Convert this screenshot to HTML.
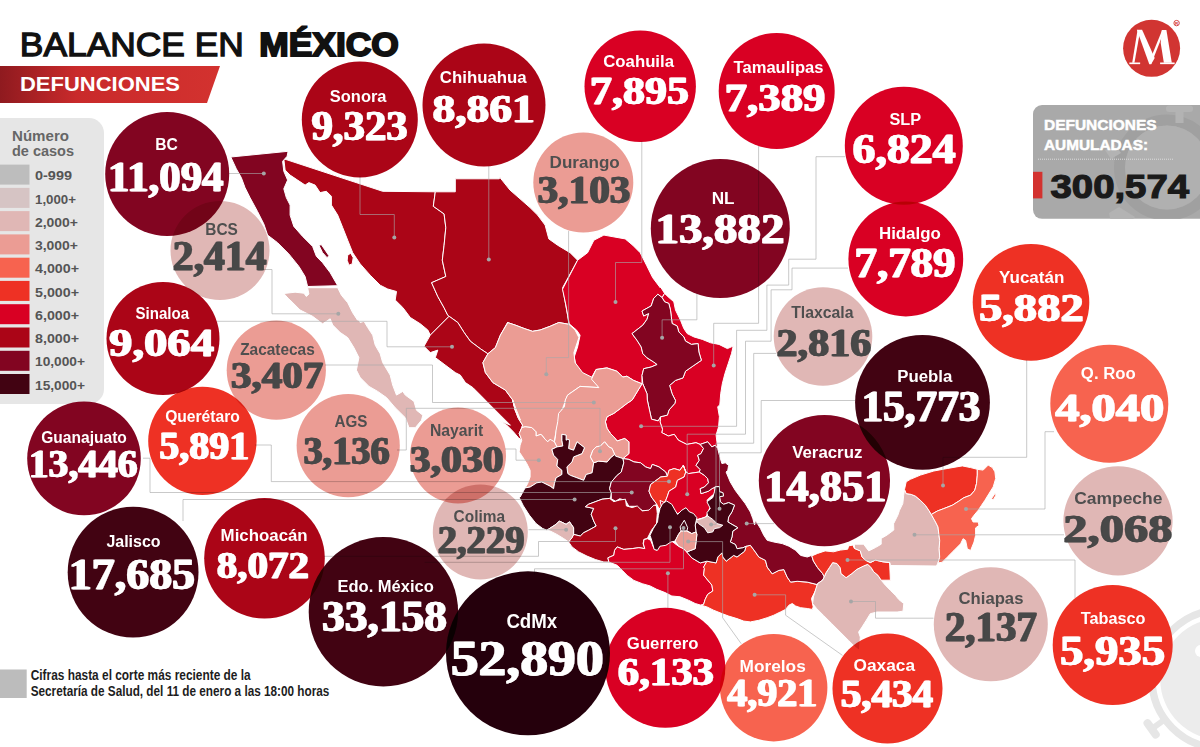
<!DOCTYPE html>
<html lang="es"><head><meta charset="utf-8"><title>Balance en México - Defunciones</title>
<style>
html,body{margin:0;padding:0;background:#fff;}
body{width:1200px;height:747px;overflow:hidden;font-family:"Liberation Sans",sans-serif;}
svg{display:block;position:absolute;left:0;top:0;}
.lab{font-family:"Liberation Sans",sans-serif;font-weight:bold;}
.num{font-family:"Liberation Serif",serif;font-weight:bold;}
.st{stroke:#fff;stroke-width:1;stroke-linejoin:round;}
.ln{fill:none;stroke:#a8a8a8;stroke-width:1;opacity:.62;}
.dot{fill:#a6a6a6;}
.c{mix-blend-mode:multiply;}
</style></head><body>
<svg width="1200" height="747" viewBox="0 0 1200 747">
<defs><linearGradient id="bg" x1="0" y1="0" x2="1" y2="0"><stop offset="0" stop-color="#8f1a1f"/><stop offset="0.35" stop-color="#c92a2b"/><stop offset="1" stop-color="#d3322f"/></linearGradient><clipPath id="boxclip"><rect x="1033" y="105" width="180" height="113.8" rx="9"/></clipPath></defs>
<rect width="1200" height="747" fill="#fff"/>
<g><circle cx="1221" cy="679" r="69" fill="none" stroke="#e6e6e6" stroke-width="7.4"/><circle cx="1221" cy="679" r="60.8" fill="#ececec"/><circle cx="1201" cy="651" r="6" fill="#fff"/><path d="M1164.2 719.9 L1152.8 728.1" stroke="#e6e6e6" stroke-width="6" fill="none"/><path d="M1147.5 723.2 L1155.7 734.6" stroke="#e6e6e6" stroke-width="8" stroke-linecap="round" fill="none"/></g>
<text x="19.8" y="56.4" font-size="34" fill="#111" stroke="#111" stroke-width="1.3" textLength="224" lengthAdjust="spacingAndGlyphs" style="font-family:'Liberation Sans',sans-serif">BALANCE EN</text>
<text x="259.3" y="56.2" font-size="33.5" fill="#111" stroke="#111" stroke-width="1.9" font-weight="bold" textLength="139.5" lengthAdjust="spacingAndGlyphs" style="font-family:'Liberation Sans',sans-serif">MÉXICO</text>
<path d="M0 66 H220 L207 103 H0 Z" fill="url(#bg)"/>
<text x="20" y="91" class="lab" font-size="20" fill="#fff" textLength="160" lengthAdjust="spacingAndGlyphs">DEFUNCIONES</text>
<path d="M0 118 H89 a15 15 0 0 1 15 15 V389 a15 15 0 0 1 -15 15 H0 Z" fill="#e6e6e6"/>
<text x="12" y="141.4" class="lab" font-size="14.5" fill="#666" textLength="57" lengthAdjust="spacingAndGlyphs">Número</text>
<text x="12" y="156" class="lab" font-size="14.5" fill="#666" textLength="62" lengthAdjust="spacingAndGlyphs">de casos</text>
<rect x="0" y="164.6" width="29.5" height="20" fill="#bdbdbd"/>
<text x="35" y="180.2" class="lab" font-size="12.5" fill="#555" textLength="37" lengthAdjust="spacingAndGlyphs">0-999</text>
<rect x="0" y="187.9" width="29.5" height="20" fill="#d6c4c4"/>
<text x="35" y="203.5" class="lab" font-size="12.5" fill="#555" textLength="41" lengthAdjust="spacingAndGlyphs">1,000+</text>
<rect x="0" y="211.1" width="29.5" height="20" fill="#e0b7b5"/>
<text x="35" y="226.7" class="lab" font-size="12.5" fill="#555" textLength="43" lengthAdjust="spacingAndGlyphs">2,000+</text>
<rect x="0" y="234.4" width="29.5" height="20" fill="#eb9c94"/>
<text x="35" y="250" class="lab" font-size="12.5" fill="#555" textLength="43" lengthAdjust="spacingAndGlyphs">3,000+</text>
<rect x="0" y="257.7" width="29.5" height="20" fill="#f7634f"/>
<text x="35" y="273.3" class="lab" font-size="12.5" fill="#555" textLength="44" lengthAdjust="spacingAndGlyphs">4,000+</text>
<rect x="0" y="280.9" width="29.5" height="20" fill="#ee3124"/>
<text x="35" y="296.6" class="lab" font-size="12.5" fill="#555" textLength="44" lengthAdjust="spacingAndGlyphs">5,000+</text>
<rect x="0" y="304.2" width="29.5" height="20" fill="#d90023"/>
<text x="35" y="319.8" class="lab" font-size="12.5" fill="#555" textLength="44" lengthAdjust="spacingAndGlyphs">6,000+</text>
<rect x="0" y="327.5" width="29.5" height="20" fill="#ab0517"/>
<text x="35" y="343.1" class="lab" font-size="12.5" fill="#555" textLength="44" lengthAdjust="spacingAndGlyphs">8,000+</text>
<rect x="0" y="350.8" width="29.5" height="20" fill="#820521"/>
<text x="35" y="366.4" class="lab" font-size="12.5" fill="#555" textLength="50" lengthAdjust="spacingAndGlyphs">10,000+</text>
<rect x="0" y="374" width="29.5" height="20" fill="#420312"/>
<text x="35" y="389.6" class="lab" font-size="12.5" fill="#555" textLength="50" lengthAdjust="spacingAndGlyphs">15,000+</text>
<rect x="0" y="669.5" width="26.7" height="28.5" fill="#bcbcbc"/>
<text x="30.7" y="680.4" font-size="15" fill="#1d1d1d" textLength="220" lengthAdjust="spacingAndGlyphs" style="font-family:'Liberation Sans',sans-serif;font-weight:bold">Cifras hasta el corte más reciente de la</text>
<text x="30.7" y="696" font-size="15" fill="#1d1d1d" textLength="298.7" lengthAdjust="spacingAndGlyphs" style="font-family:'Liberation Sans',sans-serif;font-weight:bold">Secretaría de Salud, del 11 de enero a las 18:00 horas</text>
<g clip-path="url(#boxclip)"><rect x="1033" y="105" width="180" height="114" fill="#a9a9a9"/><circle cx="1167" cy="167.5" r="47.5" fill="none" stroke="#a0a0a0" stroke-width="11"/><circle cx="1167" cy="167.5" r="42" fill="#b0b0b0"/><g fill="#b3b3b3"><rect x="1175.5" y="110" width="8" height="13"/><rect x="1166" y="105.5" width="27" height="6.5" rx="3"/><path d="M1105 150 l10 -5 l6 8 l-10 6 z"/><path d="M1109 213 l10 -6 l16 10 l-6 6 l-18 0 z"/></g></g>
<text x="1044" y="130.2" class="lab" font-size="15.5" fill="#fff" stroke="#fff" stroke-width="0.5" textLength="112.6" lengthAdjust="spacingAndGlyphs">DEFUNCIONES</text>
<text x="1044" y="149.6" class="lab" font-size="15.5" fill="#fff" stroke="#fff" stroke-width="0.5" textLength="104" lengthAdjust="spacingAndGlyphs">AUMULADAS:</text>
<line x1="1038" y1="159.2" x2="1173.6" y2="159.2" stroke="#dcdcdc" stroke-width="1" stroke-dasharray="1 1"/>
<rect x="1033" y="171.8" width="9.4" height="26.6" fill="#d3322f"/>
<text x="1050.5" y="198.2" class="lab" font-size="33.5" fill="#1a1a1a" stroke="#1a1a1a" stroke-width="1.2" textLength="138.6" lengthAdjust="spacingAndGlyphs">300,574</text>
<circle cx="1151.6" cy="48.3" r="28.5" fill="#d13532"/>
<g fill="#fff">
<polygon points="1137.60,29.65 1139.85,32.50 1134.45,62.65 1132.20,62.65"/>
<polygon points="1129.35,62.50 1140.15,62.50 1140.15,64.15 1129.35,64.15"/>
<polygon points="1136.85,29.65 1142.10,29.65 1154.70,58.00 1151.10,64.15 1149.30,64.15"/>
<polygon points="1151.10,64.15 1149.30,61.75 1162.20,30.10 1164.60,30.10"/>
<polygon points="1161.75,30.10 1166.40,30.10 1171.80,62.65 1163.85,62.65 1160.70,43.00"/>
<polygon points="1160.10,62.50 1174.65,62.50 1174.65,64.15 1160.10,64.15"/>
</g>
<circle cx="1176.6" cy="23.1" r="2.7" fill="none" stroke="#d13532" stroke-width="0.9"/>
<text x="1176.6" y="24.7" text-anchor="middle" font-size="4.4" fill="#d13532" class="lab">R</text>
<g style="isolation:isolate">
<g id="map">
<path class="st" fill="#ab0517" d="M283.8 158.8 382.7 191.3 435.3 191.8 433.3 206.3 444.1 213.9 445.8 227.6 444.1 245.2 442.3 260.2 445.8 276.5 431.6 282.7 437.8 296.5 444.1 307.8 447.8 315.3 449.1 316.3 430.3 335.1 427.8 330.0 420.3 323.8 410.3 317.5 402.8 307.5 395.2 300.0 396.5 291.5 387.7 289.0 380.2 285.2 370.2 275.2 360.2 263.9 352.7 252.7 347.7 240.2 342.7 227.6 337.7 215.1 331.4 205.1 331.4 196.3 326.4 191.3 320.1 192.6 315.1 185.1 308.9 182.6 305.1 185.1 297.6 180.1 290.1 175.1 285.1 170.0Z"/>
<path class="st" fill="#ab0517" d="M347.7 255.2 350.7 253.2 353.2 257.7 352.2 263.9 348.9 265.2 347.2 260.2Z"/>
<path class="st" fill="#ab0517" d="M435.3 191.8 455.3 191.8 455.3 178.8 499.2 178.8 500.0 177.6 510.0 190.1 520.0 198.8 530.0 207.6 537.6 215.1 545.1 225.1 548.8 238.9 557.6 245.2 570.1 252.7 577.6 260.2 562.6 287.7 567.6 315.3 568.9 324.3 558.8 322.5 550.1 326.3 540.1 330.0 532.5 331.3 525.0 328.8 515.0 325.0 507.5 322.5 500.4 335.1 495.4 347.6 487.9 353.8 480.4 348.8 470.4 341.3 464.1 332.5 457.8 322.5 449.1 316.3 447.8 315.3 444.1 307.8 437.8 296.5 431.6 282.7 445.8 276.5 442.3 260.2 444.1 245.2 445.8 227.6 444.1 213.9 433.3 206.3Z"/>
<path class="st" fill="#820521" d="M230.8 157.0 288.1 151.3 287.1 156.3 282.6 161.3 283.8 171.3 287.6 180.1 283.8 188.8 286.3 197.6 290.1 205.1 290.1 215.1 293.8 226.4 302.6 236.4 312.6 246.4 316.4 256.4 322.6 262.7 330.2 272.7 337.7 285.7 307.6 286.5 305.1 276.5 298.9 266.4 288.8 253.9 277.6 242.7 267.6 235.1 263.8 223.9 257.5 211.4 250.0 197.6 245.0 187.6 241.3 177.6 236.3 168.8Z"/>
<path class="st" fill="#820521" d="M318.9 245.2 321.4 244.7 328.9 255.7 327.1 257.7 322.6 252.7Z"/>
<path class="st" fill="#e0b7b5" d="M307.6 287.7 337.7 287.7 341.4 295.2 347.7 302.7 352.7 312.8 357.7 320.3 350.2 305.0 355.2 315.0 360.2 322.5 364.0 321.3 367.7 327.5 372.7 335.1 375.2 345.1 380.2 353.8 382.7 362.6 390.2 375.1 392.7 385.1 396.5 395.1 402.8 391.4 405.3 395.1 414.0 401.4 416.5 410.2 422.8 415.2 421.5 420.2 415.3 427.7 409.0 427.7 405.3 417.7 395.2 407.7 386.5 397.6 377.7 391.4 369.0 386.4 360.2 377.6 356.4 370.1 358.9 357.6 353.9 347.6 347.7 337.6 340.2 332.5 332.7 325.0 330.2 318.8 322.6 323.8 312.6 316.3 300.1 310.0 290.1 300.0 288.8 299.0 283.8 293.5 295.1 292.2 303.9 293.2 306.4 296.5 308.9 294.0Z"/>
<path class="st" fill="#ab0517" d="M449.1 316.3 457.8 322.5 464.1 332.5 470.4 341.3 480.4 348.8 487.9 353.8 482.9 362.6 485.4 372.6 492.9 382.6 505.4 390.1 512.9 400.2 515.4 410.2 520.4 420.2 512.6 400.0 515.1 410.0 518.4 418.4 522.6 425.1 521.8 427.6 519.2 433.5 521.8 440.2 518.4 437.7 513.4 431.8 506.7 425.1 500.0 420.9 510.4 425.2 500.4 415.2 490.4 405.2 480.4 395.1 472.9 387.6 465.4 382.6 460.3 375.1 455.3 372.6 445.3 365.1 435.3 357.6 437.8 350.1 430.3 352.6 424.0 346.3 430.3 335.1Z"/>
<path class="st" fill="#d90023" d="M577.6 260.2 587.6 252.7 593.9 240.2 603.9 235.1 625.2 238.9 632.7 245.2 640.2 252.7 646.5 265.2 652.7 277.7 660.2 287.7 660.4 286.7 664.6 293.4 662.1 297.6 657.9 294.2 653.7 298.4 651.2 305.9 642.0 311.0 643.7 316.0 648.7 313.5 647.0 319.3 642.8 325.2 632.0 333.6 637.0 340.3 641.2 346.9 642.8 353.6 647.0 357.8 653.7 362.0 657.1 364.5 651.2 367.0 643.7 368.7 642.0 375.4 642.0 383.8 633.6 380.4 626.9 376.2 622.8 377.1 616.9 371.2 606.9 367.9 596.0 369.5 591.0 378.7 581.8 373.7 575.9 365.4 574.2 357.0 577.6 346.9 580.1 335.2 576.7 330.2 569.2 323.8 565.9 305.1 562.5 289.2Z"/>
<path class="st" fill="#d90023" d="M664.6 293.4 667.1 295.9 673.8 301.8 675.5 310.1 680.5 320.2 683.8 328.5 687.2 333.6 693.9 336.9 702.3 339.4 710.6 342.8 719.0 344.4 727.4 348.6 733.2 346.1 731.5 353.6 728.2 363.7 724.9 373.7 722.3 383.8 720.7 393.8 719.8 405.0 717.7 406.7 719.4 416.7 718.6 426.8 716.1 435.1 716.9 441.8 717.7 448.5 715.2 445.2 711.9 446.9 707.7 441.8 700.2 444.4 696.0 442.7 686.8 444.4 678.4 440.2 674.2 434.3 668.4 436.0 661.7 432.6 662.5 429.3 660.0 421.8 660.7 416.7 667.4 415.1 669.0 410.0 674.9 403.3 675.7 400.0 675.5 400.5 672.1 393.8 669.6 385.4 675.5 380.4 683.0 377.9 685.5 371.2 693.9 365.4 701.4 360.3 698.9 352.0 698.1 343.6 691.4 344.4 685.5 341.1 683.8 336.9 678.8 331.9 677.2 326.0 672.1 323.5 671.3 316.8 670.5 310.1 668.8 303.4 664.6 301.8 662.1 297.6Z"/>
<path class="st" fill="#820521" d="M657.9 294.2 662.1 297.6 664.6 301.8 668.8 303.4 670.5 310.1 671.3 316.8 672.1 323.5 677.2 326.0 678.8 331.9 683.8 336.9 685.5 341.1 691.4 344.4 698.1 343.6 698.9 352.0 701.4 360.3 693.9 365.4 685.5 371.2 683.0 377.9 675.5 380.4 669.6 385.4 672.1 393.8 675.5 400.5 674.9 403.3 669.0 410.0 667.4 415.1 660.7 416.7 658.2 420.9 651.5 419.2 647.3 400.0 647.0 393.8 642.8 383.8 642.0 375.4 643.7 368.7 651.2 367.0 657.1 364.5 653.7 362.0 647.0 357.8 642.8 353.6 641.2 346.9 637.0 340.3 632.0 333.6 642.8 325.2 647.0 319.3 648.7 313.5 643.7 316.0 642.0 311.0 651.2 305.9 653.7 298.4Z"/>
<path class="st" fill="#eb9c94" d="M507.5 322.5 515.0 325.0 525.0 328.8 532.5 331.3 540.1 330.0 550.1 326.3 558.8 322.5 568.9 324.3 575.1 330.0 578.9 337.6 573.9 352.6 575.1 362.6 582.6 372.6 592.6 377.6 598.9 387.6 580.1 386.4 567.6 395.1 563.8 405.2 560.1 415.2 556.3 430.2 553.8 444.0 550.2 439.3 547.7 441.8 545.2 439.3 541.0 434.3 536.0 436.0 536.0 431.8 531.8 427.6 525.1 426.8 521.8 427.6 522.6 425.1 518.4 418.4 515.1 410.0 512.6 400.0 520.4 420.2 515.4 410.2 512.9 400.2 505.4 390.1 492.9 382.6 485.4 372.6 482.9 362.6 487.9 353.8 495.4 347.6 500.4 335.1 507.9 322.5Z"/>
<path class="st" fill="#d90023" d="M632.2 400.0 627.2 403.3 620.5 408.4 613.8 413.4 607.1 416.7 605.4 421.8 607.1 428.5 610.5 433.5 613.8 436.8 617.2 441.0 624.7 438.5 628.9 441.8 628.9 453.6 623.0 458.6 628.9 459.4 633.9 461.9 640.6 462.8 645.6 466.9 650.6 468.6 652.3 464.4 659.0 466.9 665.7 472.0 667.4 476.2 669.0 470.3 674.1 468.6 679.9 470.3 683.3 465.3 685.9 472.0 688.5 473.6 699.3 472.0 700.2 469.5 696.0 465.3 699.3 460.3 697.7 455.2 701.0 453.6 703.5 448.5 700.2 444.4 696.0 442.7 686.8 444.4 678.4 440.2 674.2 434.3 668.4 436.0 661.7 432.6 662.5 429.3 660.0 421.8 660.7 416.7 658.2 420.9 651.5 419.2 647.3 400.0 647.0 393.8 642.8 383.8 642.0 383.8Z"/>
<path class="st" fill="#eb9c94" d="M596.0 369.5 606.9 367.9 616.9 371.2 622.8 377.1 626.9 376.2 633.6 380.4 642.0 383.8 632.2 400.0 627.2 403.3 620.5 408.4 613.8 413.4 607.1 416.7 605.4 421.8 607.1 428.5 610.5 433.5 613.8 436.8 617.2 441.0 624.7 438.5 628.9 441.8 628.9 453.6 623.0 458.6 615.5 456.1 614.6 454.4 612.1 448.5 608.8 446.9 604.6 441.8 600.4 446.0 596.2 446.9 592.9 450.2 590.4 456.9 593.7 462.8 592.1 472.8 586.2 474.5 583.7 480.3 570.3 475.3 567.8 473.6 566.9 466.9 572.0 461.9 573.6 456.9 582.0 453.6 584.5 447.7 577.0 441.8 573.6 450.2 568.6 448.5 569.5 440.2 567.8 439.3 566.1 440.2 566.1 435.1 561.9 434.3 561.9 440.2 562.8 446.0 556.9 446.9 554.4 441.8 555.2 438.5 556.1 430.1 557.7 421.8 558.6 413.4 564.4 406.7 565.3 400.0 567.6 395.1 580.1 386.4 598.9 387.6 591.5 379.2Z"/>
<path class="st" fill="#eb9c94" d="M521.8 427.6 525.1 426.8 531.8 427.6 536.0 431.8 536.0 436.0 541.0 434.3 545.2 439.3 547.7 441.8 550.2 439.3 554.4 441.8 556.9 446.9 551.9 449.4 553.6 455.2 557.7 459.4 556.9 466.1 561.9 470.3 561.9 474.5 556.1 477.8 554.4 483.7 553.6 488.7 550.2 486.2 541.8 482.0 536.8 482.8 530.1 487.0 525.1 487.9 527.6 483.7 530.1 477.0 530.1 470.3 526.8 463.6 522.6 456.9 519.2 451.9 520.1 445.2 521.8 440.2 519.2 433.5Z"/>
<path class="st" fill="#420312" d="M525.1 487.9 530.1 487.0 536.8 482.8 541.8 482.0 550.2 486.2 553.6 488.7 554.4 483.7 556.1 477.8 561.9 474.5 561.9 470.3 556.9 466.1 557.7 459.4 553.6 455.2 551.9 449.4 556.9 446.9 562.8 446.0 561.9 440.2 561.9 434.3 566.1 435.1 566.1 440.2 567.8 439.3 569.5 440.2 568.6 448.5 573.6 450.2 577.0 441.8 584.5 447.7 582.0 453.6 573.6 456.9 572.0 461.9 566.9 466.9 567.8 473.6 570.3 475.3 583.7 480.3 586.2 474.5 592.1 472.8 593.7 462.8 598.7 461.1 607.1 461.9 610.5 457.7 614.6 454.4 615.5 456.1 623.0 458.6 623.8 462.8 621.3 472.0 617.2 475.3 611.3 482.0 609.6 488.7 611.3 492.9 610.5 498.7 609.6 498.4 602.1 499.2 588.7 504.2 585.4 506.7 593.7 508.4 591.2 514.3 593.7 521.0 596.2 526.0 588.7 530.2 583.7 532.7 580.3 536.0 573.6 534.4 573.6 527.7 569.5 521.8 566.1 524.3 559.4 521.0 556.1 524.3 546.9 530.2 542.7 528.5 536.0 523.5 529.3 515.1 523.4 505.9 519.2 497.5 520.1 497.1Z"/>
<path class="st" fill="#eb9c94" d="M590.4 456.9 592.9 450.2 596.2 446.9 600.4 446.0 604.6 441.8 608.8 446.9 612.1 448.5 614.6 454.4 610.5 457.7 607.1 461.9 598.7 461.1 593.7 462.8Z"/>
<path class="st" fill="#820521" d="M623.0 458.6 628.9 459.4 633.9 461.9 640.6 462.8 645.6 466.9 650.6 468.6 652.3 464.4 659.0 466.9 665.7 472.0 667.4 476.2 660.7 477.0 650.6 484.5 649.0 491.2 651.5 497.1 656.5 503.8 654.0 507.1 651.5 510.5 642.3 510.5 635.6 506.3 628.9 506.3 625.5 500.4 619.7 498.7 615.5 501.3 611.3 498.7 611.3 492.9 609.6 488.7 611.3 482.0 617.2 475.3 621.3 472.0 623.8 462.8Z"/>
<path class="st" fill="#ee3124" d="M667.4 476.2 669.0 470.3 674.1 468.6 679.9 470.3 683.3 465.3 685.8 472.0 684.1 477.0 677.4 480.3 675.7 487.0 669.0 491.2 667.4 496.2 665.7 500.4 661.5 507.1 659.0 508.8 656.5 503.8 651.5 497.1 649.0 491.2 650.6 484.5 660.7 477.0Z"/>
<path class="st" fill="#d90023" d="M685.9 472.0 688.5 473.6 699.3 472.0 704.4 475.3 707.7 478.7 708.5 482.8 704.4 487.0 700.2 488.7 701.0 493.7 708.5 491.2 711.9 488.7 715.2 487.0 714.4 493.7 710.2 497.1 706.9 500.4 711.9 504.6 708.5 510.5 706.0 517.2 696.0 519.7 693.5 515.5 689.3 512.1 685.9 508.8 681.8 512.1 676.7 513.8 672.6 507.1 666.7 503.8 660.0 500.4 661.5 507.1 665.7 500.4 667.4 496.2 669.0 491.2 675.7 487.0 677.4 480.3 684.1 477.0 685.8 472.0 683.3 465.3Z"/>
<path class="st" fill="#ab0517" d="M585.4 506.7 588.7 504.2 602.1 499.2 609.6 498.4 613.8 501.7 619.7 500.0 625.5 499.2 626.4 505.9 632.2 507.6 637.2 505.9 642.3 510.9 649.0 510.1 654.0 505.1 656.5 505.9 657.3 513.4 656.5 523.5 651.5 530.2 647.3 538.5 643.9 539.4 643.1 543.6 644.8 548.6 638.9 547.7 632.2 548.6 623.8 549.4 617.2 546.9 614.6 550.3 613.8 555.3 607.9 557.8 608.8 562.0 603.8 562.0 595.4 559.5 587.0 556.1 578.7 551.9 572.0 546.9 568.6 541.9 572.0 537.7 573.6 534.4 580.3 536.0 583.7 532.7 588.7 530.2 596.2 526.0 593.7 521.0 591.2 514.3 593.7 508.4Z"/>
<path class="st" fill="#e0b7b5" d="M546.9 530.2 556.1 524.3 559.4 521.0 566.1 524.3 569.5 521.8 573.6 527.7 573.6 534.4 572.0 537.7 568.6 541.9 563.6 538.5 556.9 534.4 550.2 531.0Z"/>
<path class="st" fill="#d90023" d="M608.8 562.0 607.9 557.8 613.8 555.3 614.6 550.3 617.2 546.9 623.8 549.4 632.2 548.6 638.9 547.7 644.8 548.6 643.4 543.9 644.1 539.5 647.6 538.7 650.6 540.2 654.0 548.6 656.5 550.3 660.7 545.2 664.9 541.9 670.7 540.2 674.9 543.6 678.5 546.2 683.5 548.7 686.8 552.0 691.8 557.9 700.2 562.9 706.9 561.2 703.6 567.1 704.4 568.4 703.6 575.1 707.7 580.1 711.9 585.1 712.8 591.0 707.7 594.3 705.2 599.3 703.6 604.4 701.0 605.2 695.2 603.5 688.5 600.2 680.1 596.8 671.8 596.0 665.1 592.6 656.7 589.3 650.0 585.9 642.3 583.7 633.9 580.4 627.2 575.4 622.2 570.3 617.2 565.3Z"/>
<path class="st" fill="#ee3124" d="M706.9 561.2 716.1 562.9 717.8 557.0 722.0 552.8 722.8 557.0 726.2 561.2 733.7 555.4 737.0 557.0 744.6 551.2 746.2 546.2 750.4 545.3 755.4 552.0 758.8 557.0 765.5 560.4 767.2 567.1 772.2 573.8 778.9 570.4 783.9 569.6 787.2 577.1 790.6 582.1 797.3 581.3 807.3 582.1 817.4 584.6 815.7 590.1 811.5 598.5 813.2 606.9 812.3 609.4 807.3 608.5 800.6 607.7 795.6 606.0 792.3 603.5 788.9 605.2 785.6 609.4 780.5 611.9 773.8 615.2 767.2 617.7 758.8 620.3 750.4 621.9 743.7 621.1 737.0 618.6 728.7 616.1 722.0 613.6 713.6 610.2 706.9 606.9 701.0 605.2 703.6 604.4 705.2 599.3 707.7 594.3 712.8 591.0 711.9 585.1 707.7 580.1 703.6 575.1 704.4 568.4 703.6 567.1Z"/>
<path class="st" fill="#820521" d="M700.2 444.4 707.7 441.8 711.9 446.9 715.2 445.2 717.7 448.5 719.4 455.2 721.9 463.6 725.3 462.8 728.6 465.3 727.8 470.3 726.1 472.0 730.3 482.0 735.3 490.4 740.3 497.1 745.4 503.8 750.4 512.1 752.9 518.8 754.6 525.0 755.4 520.2 760.5 528.6 763.8 535.3 767.2 540.3 773.8 542.0 782.2 543.6 788.9 546.2 795.6 550.3 800.6 555.4 807.3 557.0 811.5 555.4 811.8 555.9 813.4 561.0 817.6 567.7 822.6 573.5 824.3 576.9 822.6 580.2 817.6 583.6 817.4 584.6 807.3 582.1 797.3 581.3 790.6 582.1 787.2 577.1 783.9 569.6 778.9 570.4 772.2 573.8 767.2 567.1 765.5 560.4 758.8 557.0 755.4 552.0 750.4 545.3 746.2 546.2 742.9 547.8 737.0 548.7 735.4 544.5 730.3 542.0 732.0 536.9 732.8 531.1 737.9 527.7 732.0 524.4 727.8 521.9 728.7 516.9 732.0 511.8 734.5 505.1 728.7 502.6 723.6 504.3 720.3 501.8 719.5 496.8 723.6 495.9 722.8 492.6 719.5 491.8 719.5 486.7 715.3 486.7 715.2 487.0 711.9 488.7 708.5 491.2 701.0 493.7 700.2 488.7 704.4 487.0 708.5 482.8 707.7 478.7 704.4 475.3 699.3 472.0 700.2 469.5 696.0 465.3 699.3 460.3 697.7 455.2 701.0 453.6 703.5 448.5Z"/>
<path class="st" fill="#420312" d="M715.3 486.7 719.5 486.7 719.5 491.8 722.8 492.6 723.6 495.9 719.5 496.8 720.3 501.8 723.6 504.3 728.7 502.6 734.5 505.1 732.0 511.8 728.7 516.9 727.8 521.9 732.0 524.4 737.9 527.7 732.8 531.1 732.0 536.9 730.3 542.0 735.4 544.5 737.0 548.7 742.9 547.8 746.2 546.2 744.6 551.2 737.0 557.0 733.7 555.4 726.2 561.2 722.8 557.0 722.0 552.8 717.8 557.0 716.1 562.9 706.9 561.2 700.2 562.9 691.8 557.9 686.8 552.0 691.0 550.3 695.2 548.7 696.0 542.0 696.9 534.4 696.0 531.9 695.2 525.2 696.9 520.2 701.9 518.5 707.7 516.0 706.9 512.7 710.3 508.5 706.9 501.8 712.8 497.6 714.4 491.8Z"/>
<path class="st" fill="#e0b7b5" d="M696.0 520.2 701.9 518.5 707.7 516.0 712.8 519.4 716.9 523.6 722.8 525.2 719.5 527.7 714.4 528.6 712.8 531.9 707.7 532.8 704.4 527.7 698.5 523.6Z"/>
<path class="st" fill="#420312" d="M666.7 501.0 671.8 504.3 675.1 510.2 677.6 514.4 681.8 510.2 686.0 507.7 689.3 511.8 693.5 513.5 696.9 517.7 695.2 525.2 696.0 531.9 691.8 533.6 687.7 531.1 681.0 531.1 678.5 534.4 675.1 541.1 670.9 542.0 665.9 545.3 660.0 546.2 657.5 550.3 654.2 549.5 651.7 540.3 650.0 535.3 653.3 528.6 657.5 521.9 658.4 515.2 660.0 508.5 662.6 503.5Z"/>
<path class="st" fill="#420312" d="M684.3 520.2 687.7 527.7 686.8 531.1 681.0 531.1 680.1 526.9Z"/>
<path class="st" fill="#eb9c94" d="M681.0 531.1 686.8 531.1 691.8 533.6 696.0 531.9 696.9 534.4 696.0 542.0 695.2 548.7 691.0 550.3 686.8 552.0 683.5 548.7 678.5 546.2 675.1 541.1 678.5 534.4Z"/>
<path class="st" fill="#e0b7b5" d="M824.3 576.9 826.0 572.7 829.3 567.7 832.7 562.6 836.9 563.5 840.2 567.7 841.0 573.5 846.1 577.7 851.9 573.5 856.9 569.3 863.6 566.0 867.8 564.3 871.2 567.7 873.7 571.8 877.9 575.2 881.2 580.2 885.4 585.2 890.4 590.3 895.4 595.3 898.8 599.5 903.8 603.6 903.0 611.2 897.1 612.0 877.0 612.0 870.3 613.7 866.2 620.4 862.0 627.1 858.6 632.1 860.3 637.1 859.5 650.5 855.3 647.2 848.6 640.5 840.2 632.1 831.8 623.7 823.5 615.4 816.8 608.7 812.6 603.6 813.4 596.9 815.9 588.6 817.6 583.6 822.6 580.2Z"/>
<path class="st" fill="#ee3124" d="M811.8 555.9 817.6 553.4 825.1 550.9 833.5 551.8 840.2 550.1 847.7 549.2 848.6 545.9 852.8 545.1 854.4 548.4 860.3 550.9 862.0 556.8 865.3 560.1 870.3 562.6 875.4 560.1 882.9 561.8 889.6 562.6 890.4 580.2 881.2 580.2 877.9 575.2 873.7 571.8 871.2 567.7 867.8 564.3 863.6 566.0 856.9 569.3 851.9 573.5 846.1 577.7 841.0 573.5 840.2 567.7 836.9 563.5 832.7 562.6 829.3 567.7 826.0 572.7 824.3 576.9 822.6 573.5 817.6 567.7 813.4 561.0Z"/>
<path class="st" fill="#e0b7b5" d="M904.5 489.4 906.2 493.6 911.2 494.4 915.4 496.1 920.4 500.3 925.4 505.3 928.8 510.3 931.3 514.5 935.5 522.0 938.0 527.0 938.8 533.7 939.7 540.4 939.2 548.8 939.7 557.2 938.0 563.0 936.4 566.0 890.4 565.5 889.9 562.6 882.9 561.8 875.4 560.1 870.3 562.6 865.3 560.1 862.0 556.8 860.3 550.9 854.4 548.4 854.4 544.2 863.6 544.2 868.7 550.9 875.4 547.6 881.2 544.2 881.2 538.4 887.1 535.0 893.8 530.0 893.6 523.7 897.8 515.3 899.5 510.3 902.8 503.6 903.7 495.2Z"/>
<path class="st" fill="#ee3124" d="M906.2 481.8 910.4 479.3 920.4 475.1 933.8 471.0 947.2 468.5 962.3 465.9 970.6 467.6 977.3 469.3 977.3 475.1 976.5 483.5 974.8 490.2 970.6 495.2 963.9 497.7 958.9 501.1 952.2 505.3 943.8 508.6 937.2 511.1 931.3 514.5 928.8 510.3 925.4 505.3 920.4 500.3 915.4 496.1 911.2 494.4 906.2 493.6 904.5 489.4Z"/>
<path class="st" fill="#f7634f" d="M977.3 469.3 983.2 470.1 988.2 465.1 992.4 467.6 994.9 471.8 995.7 478.5 993.2 486.9 989.0 493.6 984.9 500.3 981.5 505.3 978.2 510.3 974.0 515.3 971.5 518.7 973.1 522.0 978.2 522.0 979.0 525.4 975.6 527.9 975.6 535.4 974.0 542.1 970.6 550.5 967.3 548.8 965.6 540.4 963.1 538.7 960.6 543.8 953.9 550.5 947.2 557.2 942.2 562.2 938.0 563.0 939.7 557.2 939.2 548.8 939.7 540.4 938.8 533.7 938.0 527.0 935.5 522.0 931.3 514.5 937.2 511.1 943.8 508.6 952.2 505.3 958.9 501.1 963.9 497.7 970.6 495.2 974.8 490.2 976.5 483.5 977.3 475.1Z"/>
<path class="st" fill="#f7634f" d="M991.5 498.6 994.9 493.6 996.1 494.9 993.2 499.9Z"/>
</g>
<g id="lines">
<polyline class="ln" points="229,173.5 263.8,173.5"/>
<circle class="dot" cx="263.8" cy="173.5" r="2"/>
<polyline class="ln" points="262,269.5 272,269.5 272,313.8 338.3,313.8"/>
<circle class="dot" cx="338.3" cy="313.8" r="2"/>
<polyline class="ln" points="360,176 360,214.5 394.3,214.5 394.3,237.5"/>
<circle class="dot" cx="394.3" cy="237.5" r="2"/>
<polyline class="ln" points="488.8,166 488.8,259.5"/>
<circle class="dot" cx="488.8" cy="259.5" r="2"/>
<polyline class="ln" points="217,321.3 387,321.3 387,346.8 452,346.8"/>
<circle class="dot" cx="452" cy="346.8" r="2"/>
<polyline class="ln" points="325,365 432.5,365 432.5,402.5 593.8,402.5"/>
<circle class="dot" cx="593.8" cy="402.5" r="2"/>
<polyline class="ln" points="397,450 406.3,450 406.3,408.3 600,408.3 600,451.3"/>
<circle class="dot" cx="600" cy="451.3" r="2"/>
<polyline class="ln" points="505,449 516,449 516,460.2 538.8,460.2"/>
<circle class="dot" cx="538.8" cy="460.2" r="2"/>
<polyline class="ln" points="143,458.2 150,458.2 150,492.5 631.7,492.5"/>
<circle class="dot" cx="631.7" cy="492.5" r="2"/>
<polyline class="ln" points="255,445 271.3,445 271.3,481.6 669,481.6"/>
<circle class="dot" cx="669" cy="481.6" r="2"/>
<polyline class="ln" points="183,521 183,499.5 574.6,499.5"/>
<circle class="dot" cx="574.6" cy="499.5" r="2"/>
<polyline class="ln" points="324,556.3 538.5,556.3 538.5,541.5 615.5,541.5 615.5,528.2"/>
<circle class="dot" cx="615.5" cy="528.2" r="2"/>
<polyline class="ln" points="528.5,529.7 566.1,529.7"/>
<circle class="dot" cx="566.1" cy="529.7" r="2"/>
<polyline class="ln" points="424.5,562.3 670,562.3 670,527.3"/>
<circle class="dot" cx="670" cy="527.3" r="2"/>
<polyline class="ln" points="534.5,575 534.5,568.8 683.5,568.8 683.5,528"/>
<circle class="dot" cx="683.5" cy="528" r="2"/>
<polyline class="ln" points="667.9,608 667.9,573.3"/>
<circle class="dot" cx="667.9" cy="573.3" r="2"/>
<polyline class="ln" points="741.2,643.7 722.6,617.7 722.6,541.6 688.2,541.6"/>
<circle class="dot" cx="688.2" cy="541.6" r="2"/>
<polyline class="ln" points="842.5,655.4 785.6,615.2 785.6,594.8 754.6,594.8"/>
<circle class="dot" cx="754.6" cy="594.8" r="2"/>
<polyline class="ln" points="933.5,618.2 875.5,618.2 875.5,601.5 851,601.5"/>
<circle class="dot" cx="851" cy="601.5" r="2"/>
<polyline class="ln" points="1075,598 1075,560 847.5,560"/>
<circle class="dot" cx="847.5" cy="560" r="2"/>
<polyline class="ln" points="1064,534.8 914.5,534.8"/>
<circle class="dot" cx="914.5" cy="534.8" r="2"/>
<polyline class="ln" points="1054,431.7 1045,431.7 1045,509 966,509"/>
<circle class="dot" cx="966" cy="509" r="2"/>
<polyline class="ln" points="1026.7,360 1026.7,457.3 943,457.3 943,485.5"/>
<circle class="dot" cx="943" cy="485.5" r="2"/>
<polyline class="ln" points="774,523.6 746.7,523.6"/>
<circle class="dot" cx="746.7" cy="523.6" r="2"/>
<polyline class="ln" points="855,400.5 761.2,400.5 761.2,452.8 719.5,452.8 719.5,508.8"/>
<circle class="dot" cx="719.5" cy="508.8" r="2"/>
<polyline class="ln" points="776.2,353.4 753.7,353.4 753.7,443.2 716,443.2 716,524.4 711.1,524.4"/>
<circle class="dot" cx="711.1" cy="524.4" r="2"/>
<polyline class="ln" points="848,268.1 792,268.1 792,289.8 771.1,289.8 771.1,341.2 745.5,341.2 745.5,434.2 687.2,434.2 687.2,494.2"/>
<circle class="dot" cx="687.2" cy="494.2" r="2"/>
<polyline class="ln" points="845,156.7 816,156.7 816,259.2 788.7,259.2 788.7,285.1 766.9,285.1 766.9,330.3 736.6,330.3 736.6,426.3 641.1,426.3"/>
<circle class="dot" cx="641.1" cy="426.3" r="2"/>
<polyline class="ln" points="758.6,146 758.6,323.3 713.7,323.3 713.7,365.6"/>
<circle class="dot" cx="713.7" cy="365.6" r="2"/>
<polyline class="ln" points="641.8,141 641.8,262.5 615.5,262.5 615.5,302"/>
<circle class="dot" cx="615.5" cy="302" r="2"/>
<polyline class="ln" points="696.9,293 696.9,319.8 662.1,319.8 662.1,337.7"/>
<circle class="dot" cx="662.1" cy="337.7" r="2"/>
<polyline class="ln" points="568.6,231 568.6,357.6 546.3,357.6 546.3,374.3"/>
<circle class="dot" cx="546.3" cy="374.3" r="2"/>
</g>
<g id="circles">
<circle class="c" cx="167.2" cy="174" r="62" fill="#820521"/>
<circle class="c" cx="220" cy="250.4" r="49.5" fill="#e0b7b5"/>
<circle class="c" cx="163" cy="338.5" r="56.5" fill="#ab0517"/>
<circle class="c" cx="276.3" cy="370.2" r="49.6" fill="#eb9c94"/>
<circle class="c" cx="84" cy="458.4" r="56.8" fill="#820521"/>
<circle class="c" cx="202.4" cy="440.9" r="54.2" fill="#ee3124"/>
<circle class="c" cx="348.2" cy="445.6" r="51.6" fill="#eb9c94"/>
<circle class="c" cx="458" cy="455.5" r="48" fill="#eb9c94"/>
<circle class="c" cx="133.1" cy="572.2" r="65.4" fill="#420312"/>
<circle class="c" cx="264.5" cy="558.3" r="60.3" fill="#ab0517"/>
<circle class="c" cx="480.3" cy="531.9" r="47.5" fill="#e0b7b5"/>
<circle class="c" cx="383.4" cy="611.7" r="74.7" fill="#420312"/>
<circle class="c" cx="528" cy="653.3" r="82" fill="#25000c"/>
<circle class="c" cx="665.3" cy="667.7" r="60" fill="#d90023"/>
<circle class="c" cx="773.7" cy="687.7" r="53.7" fill="#f7634f"/>
<circle class="c" cx="887.5" cy="688.5" r="55" fill="#ee3124"/>
<circle class="c" cx="990.8" cy="624.3" r="57" fill="#e0b7b5"/>
<circle class="c" cx="1112.7" cy="645" r="60" fill="#ee3124"/>
<circle class="c" cx="1118" cy="520.8" r="54.6" fill="#e0b7b5"/>
<circle class="c" cx="1109.3" cy="403.7" r="59" fill="#f7634f"/>
<circle class="c" cx="1031" cy="302.4" r="58.3" fill="#ee3124"/>
<circle class="c" cx="824.4" cy="480.6" r="65.6" fill="#820521"/>
<circle class="c" cx="922.5" cy="402.3" r="67.4" fill="#420312"/>
<circle class="c" cx="823" cy="336.5" r="49.3" fill="#e0b7b5"/>
<circle class="c" cx="905.8" cy="259" r="57.4" fill="#d90023"/>
<circle class="c" cx="903.8" cy="145.7" r="59" fill="#d90023"/>
<circle class="c" cx="776.7" cy="91" r="58" fill="#d90023"/>
<circle class="c" cx="640.2" cy="86.2" r="55.7" fill="#d90023"/>
<circle class="c" cx="720.3" cy="228.5" r="69.5" fill="#820521"/>
<circle class="c" cx="583.3" cy="182.5" r="50" fill="#eb9c94"/>
<circle class="c" cx="484" cy="105" r="61.5" fill="#ab0517"/>
<circle class="c" cx="359.8" cy="119.5" r="58" fill="#ab0517"/>
</g>
</g>
<g id="ctext">
<text id="L_BC" x="155.29" y="149.9" class="lab" font-size="16" fill="#fff" textLength="22.57" lengthAdjust="spacingAndGlyphs">BC</text>
<text x="107.39" y="191.2" class="num" font-size="42.64" fill="#fff" stroke="#fff" stroke-width="0.3" textLength="115.37" lengthAdjust="spacingAndGlyphs">11,094</text>
<text x="108.14" y="191.2" class="num" font-size="42.64" fill="#fff" stroke="#fff" stroke-width="0.3" textLength="115.37" lengthAdjust="spacingAndGlyphs">11,094</text>
<text x="108.89" y="191.2" class="num" font-size="42.64" fill="#fff" stroke="#fff" stroke-width="0.3" textLength="115.37" lengthAdjust="spacingAndGlyphs">11,094</text>
<text id="L_BCS" x="205.3" y="234.5" class="lab" font-size="16" fill="#4f4f4f" textLength="32.58" lengthAdjust="spacingAndGlyphs">BCS</text>
<text x="172.09" y="270" class="num" font-size="41.92" fill="#484848" stroke="#484848" stroke-width="0.3" textLength="93.66" lengthAdjust="spacingAndGlyphs">2,414</text>
<text x="172.84" y="270" class="num" font-size="41.92" fill="#484848" stroke="#484848" stroke-width="0.3" textLength="93.66" lengthAdjust="spacingAndGlyphs">2,414</text>
<text x="173.59" y="270" class="num" font-size="41.92" fill="#484848" stroke="#484848" stroke-width="0.3" textLength="93.66" lengthAdjust="spacingAndGlyphs">2,414</text>
<text id="L_Sinaloa" x="135.49" y="319.3" class="lab" font-size="16" fill="#fff" textLength="53.61" lengthAdjust="spacingAndGlyphs">Sinaloa</text>
<text x="108.34" y="355.7" class="num" font-size="40.01" fill="#fff" stroke="#fff" stroke-width="0.3" textLength="104.91" lengthAdjust="spacingAndGlyphs">9,064</text>
<text x="109.09" y="355.7" class="num" font-size="40.01" fill="#fff" stroke="#fff" stroke-width="0.3" textLength="104.91" lengthAdjust="spacingAndGlyphs">9,064</text>
<text x="109.84" y="355.7" class="num" font-size="40.01" fill="#fff" stroke="#fff" stroke-width="0.3" textLength="104.91" lengthAdjust="spacingAndGlyphs">9,064</text>
<text id="L_Zacatecas" x="240.14" y="355" class="lab" font-size="16" fill="#4f4f4f" textLength="74.62" lengthAdjust="spacingAndGlyphs">Zacatecas</text>
<text x="230.38" y="388.3" class="num" font-size="38.59" fill="#484848" stroke="#484848" stroke-width="0.3" textLength="92.21" lengthAdjust="spacingAndGlyphs">3,407</text>
<text x="231.13" y="388.3" class="num" font-size="38.59" fill="#484848" stroke="#484848" stroke-width="0.3" textLength="92.21" lengthAdjust="spacingAndGlyphs">3,407</text>
<text x="231.88" y="388.3" class="num" font-size="38.59" fill="#484848" stroke="#484848" stroke-width="0.3" textLength="92.21" lengthAdjust="spacingAndGlyphs">3,407</text>
<text id="L_Guanajuato" x="41.24" y="442.6" class="lab" font-size="16" fill="#fff" textLength="85.62" lengthAdjust="spacingAndGlyphs">Guanajuato</text>
<text x="28.08" y="477.2" class="num" font-size="39.53" fill="#fff" stroke="#fff" stroke-width="0.3" textLength="108.76" lengthAdjust="spacingAndGlyphs">13,446</text>
<text x="28.83" y="477.2" class="num" font-size="39.53" fill="#fff" stroke="#fff" stroke-width="0.3" textLength="108.76" lengthAdjust="spacingAndGlyphs">13,446</text>
<text x="29.58" y="477.2" class="num" font-size="39.53" fill="#fff" stroke="#fff" stroke-width="0.3" textLength="108.76" lengthAdjust="spacingAndGlyphs">13,446</text>
<text id="L_Querétaro" x="165.14" y="422.3" class="lab" font-size="16" fill="#fff" textLength="74.72" lengthAdjust="spacingAndGlyphs">Querétaro</text>
<text x="158.47" y="459" class="num" font-size="39.99" fill="#fff" stroke="#fff" stroke-width="0.3" textLength="90.15" lengthAdjust="spacingAndGlyphs">5,891</text>
<text x="159.22" y="459" class="num" font-size="39.99" fill="#fff" stroke="#fff" stroke-width="0.3" textLength="90.15" lengthAdjust="spacingAndGlyphs">5,891</text>
<text x="159.97" y="459" class="num" font-size="39.99" fill="#fff" stroke="#fff" stroke-width="0.3" textLength="90.15" lengthAdjust="spacingAndGlyphs">5,891</text>
<text id="L_AGS" x="334.48" y="426.7" class="lab" font-size="16" fill="#4f4f4f" textLength="32.98" lengthAdjust="spacingAndGlyphs">AGS</text>
<text x="302.74" y="464" class="num" font-size="39.98" fill="#484848" stroke="#484848" stroke-width="0.3" textLength="86.12" lengthAdjust="spacingAndGlyphs">3,136</text>
<text x="303.49" y="464" class="num" font-size="39.98" fill="#484848" stroke="#484848" stroke-width="0.3" textLength="86.12" lengthAdjust="spacingAndGlyphs">3,136</text>
<text x="304.24" y="464" class="num" font-size="39.98" fill="#484848" stroke="#484848" stroke-width="0.3" textLength="86.12" lengthAdjust="spacingAndGlyphs">3,136</text>
<text id="L_Nayarit" x="429.98" y="436.2" class="lab" font-size="16" fill="#4f4f4f" textLength="53.28" lengthAdjust="spacingAndGlyphs">Nayarit</text>
<text x="409.03" y="472.3" class="num" font-size="38.31" fill="#484848" stroke="#484848" stroke-width="0.3" textLength="93.98" lengthAdjust="spacingAndGlyphs">3,030</text>
<text x="409.78" y="472.3" class="num" font-size="38.31" fill="#484848" stroke="#484848" stroke-width="0.3" textLength="93.98" lengthAdjust="spacingAndGlyphs">3,030</text>
<text x="410.53" y="472.3" class="num" font-size="38.31" fill="#484848" stroke="#484848" stroke-width="0.3" textLength="93.98" lengthAdjust="spacingAndGlyphs">3,030</text>
<text id="L_Jalisco" x="106.39" y="547" class="lab" font-size="16" fill="#fff" textLength="54.15" lengthAdjust="spacingAndGlyphs">Jalisco</text>
<text x="68.06" y="588.7" class="num" font-size="43.43" fill="#fff" stroke="#fff" stroke-width="0.3" textLength="126.29" lengthAdjust="spacingAndGlyphs">17,685</text>
<text x="68.81" y="588.7" class="num" font-size="43.43" fill="#fff" stroke="#fff" stroke-width="0.3" textLength="126.29" lengthAdjust="spacingAndGlyphs">17,685</text>
<text x="69.56" y="588.7" class="num" font-size="43.43" fill="#fff" stroke="#fff" stroke-width="0.3" textLength="126.29" lengthAdjust="spacingAndGlyphs">17,685</text>
<text id="L_Michoacán" x="220.62" y="541.3" class="lab" font-size="16" fill="#fff" textLength="87.05" lengthAdjust="spacingAndGlyphs">Michoacán</text>
<text x="216.08" y="578" class="num" font-size="38.52" fill="#fff" stroke="#fff" stroke-width="0.3" textLength="92.29" lengthAdjust="spacingAndGlyphs">8,072</text>
<text x="216.83" y="578" class="num" font-size="38.52" fill="#fff" stroke="#fff" stroke-width="0.3" textLength="92.29" lengthAdjust="spacingAndGlyphs">8,072</text>
<text x="217.58" y="578" class="num" font-size="38.52" fill="#fff" stroke="#fff" stroke-width="0.3" textLength="92.29" lengthAdjust="spacingAndGlyphs">8,072</text>
<text id="L_Colima" x="453.59" y="522" class="lab" font-size="16" fill="#4f4f4f" textLength="51.41" lengthAdjust="spacingAndGlyphs">Colima</text>
<text x="436.88" y="553" class="num" font-size="39.89" fill="#484848" stroke="#484848" stroke-width="0.3" textLength="86.9" lengthAdjust="spacingAndGlyphs">2,229</text>
<text x="437.63" y="553" class="num" font-size="39.89" fill="#484848" stroke="#484848" stroke-width="0.3" textLength="86.9" lengthAdjust="spacingAndGlyphs">2,229</text>
<text x="438.38" y="553" class="num" font-size="39.89" fill="#484848" stroke="#484848" stroke-width="0.3" textLength="86.9" lengthAdjust="spacingAndGlyphs">2,229</text>
<text id="L_Edo. México" x="337.48" y="592" class="lab" font-size="16" fill="#fff" textLength="96.38" lengthAdjust="spacingAndGlyphs">Edo. México</text>
<text x="321.33" y="630.5" class="num" font-size="45.14" fill="#fff" stroke="#fff" stroke-width="0.3" textLength="124.99" lengthAdjust="spacingAndGlyphs">33,158</text>
<text x="322.08" y="630.5" class="num" font-size="45.14" fill="#fff" stroke="#fff" stroke-width="0.3" textLength="124.99" lengthAdjust="spacingAndGlyphs">33,158</text>
<text x="322.83" y="630.5" class="num" font-size="45.14" fill="#fff" stroke="#fff" stroke-width="0.3" textLength="124.99" lengthAdjust="spacingAndGlyphs">33,158</text>
<text id="L_CdMx" x="506.38" y="627.5" class="lab" font-size="20.5" fill="#fff" textLength="50.87" lengthAdjust="spacingAndGlyphs">CdMx</text>
<text x="449.97" y="675" class="num" font-size="50.48" fill="#fff" stroke="#fff" stroke-width="0.3" textLength="153.01" lengthAdjust="spacingAndGlyphs">52,890</text>
<text x="450.72" y="675" class="num" font-size="50.48" fill="#fff" stroke="#fff" stroke-width="0.3" textLength="153.01" lengthAdjust="spacingAndGlyphs">52,890</text>
<text x="451.47" y="675" class="num" font-size="50.48" fill="#fff" stroke="#fff" stroke-width="0.3" textLength="153.01" lengthAdjust="spacingAndGlyphs">52,890</text>
<text id="L_Guerrero" x="626.89" y="649" class="lab" font-size="16" fill="#fff" textLength="71.55" lengthAdjust="spacingAndGlyphs">Guerrero</text>
<text x="617.08" y="685.3" class="num" font-size="40.89" fill="#fff" stroke="#fff" stroke-width="0.3" textLength="96.04" lengthAdjust="spacingAndGlyphs">6,133</text>
<text x="617.83" y="685.3" class="num" font-size="40.89" fill="#fff" stroke="#fff" stroke-width="0.3" textLength="96.04" lengthAdjust="spacingAndGlyphs">6,133</text>
<text x="618.58" y="685.3" class="num" font-size="40.89" fill="#fff" stroke="#fff" stroke-width="0.3" textLength="96.04" lengthAdjust="spacingAndGlyphs">6,133</text>
<text id="L_Morelos" x="739.62" y="672" class="lab" font-size="16" fill="#fff" textLength="66.12" lengthAdjust="spacingAndGlyphs">Morelos</text>
<text x="726.4" y="706.3" class="num" font-size="39.91" fill="#fff" stroke="#fff" stroke-width="0.3" textLength="90.13" lengthAdjust="spacingAndGlyphs">4,921</text>
<text x="727.15" y="706.3" class="num" font-size="39.91" fill="#fff" stroke="#fff" stroke-width="0.3" textLength="90.13" lengthAdjust="spacingAndGlyphs">4,921</text>
<text x="727.9" y="706.3" class="num" font-size="39.91" fill="#fff" stroke="#fff" stroke-width="0.3" textLength="90.13" lengthAdjust="spacingAndGlyphs">4,921</text>
<text id="L_Oaxaca" x="853.59" y="671.3" class="lab" font-size="16" fill="#fff" textLength="61.41" lengthAdjust="spacingAndGlyphs">Oaxaca</text>
<text x="840.14" y="707" class="num" font-size="40.92" fill="#fff" stroke="#fff" stroke-width="0.3" textLength="92.21" lengthAdjust="spacingAndGlyphs">5,434</text>
<text x="840.89" y="707" class="num" font-size="40.92" fill="#fff" stroke="#fff" stroke-width="0.3" textLength="92.21" lengthAdjust="spacingAndGlyphs">5,434</text>
<text x="841.64" y="707" class="num" font-size="40.92" fill="#fff" stroke="#fff" stroke-width="0.3" textLength="92.21" lengthAdjust="spacingAndGlyphs">5,434</text>
<text id="L_Chiapas" x="958.57" y="604" class="lab" font-size="16" fill="#4f4f4f" textLength="64.84" lengthAdjust="spacingAndGlyphs">Chiapas</text>
<text x="944.13" y="641.3" class="num" font-size="42.36" fill="#484848" stroke="#484848" stroke-width="0.3" textLength="92.02" lengthAdjust="spacingAndGlyphs">2,137</text>
<text x="944.88" y="641.3" class="num" font-size="42.36" fill="#484848" stroke="#484848" stroke-width="0.3" textLength="92.02" lengthAdjust="spacingAndGlyphs">2,137</text>
<text x="945.63" y="641.3" class="num" font-size="42.36" fill="#484848" stroke="#484848" stroke-width="0.3" textLength="92.02" lengthAdjust="spacingAndGlyphs">2,137</text>
<text id="L_Tabasco" x="1080.75" y="624" class="lab" font-size="16" fill="#fff" textLength="64.77" lengthAdjust="spacingAndGlyphs">Tabasco</text>
<text x="1059.22" y="664.7" class="num" font-size="42.84" fill="#fff" stroke="#fff" stroke-width="0.3" textLength="105.14" lengthAdjust="spacingAndGlyphs">5,935</text>
<text x="1059.97" y="664.7" class="num" font-size="42.84" fill="#fff" stroke="#fff" stroke-width="0.3" textLength="105.14" lengthAdjust="spacingAndGlyphs">5,935</text>
<text x="1060.72" y="664.7" class="num" font-size="42.84" fill="#fff" stroke="#fff" stroke-width="0.3" textLength="105.14" lengthAdjust="spacingAndGlyphs">5,935</text>
<text id="L_Campeche" x="1074.24" y="504" class="lab" font-size="16" fill="#4f4f4f" textLength="88.17" lengthAdjust="spacingAndGlyphs">Campeche</text>
<text x="1062.58" y="542.3" class="num" font-size="40.99" fill="#484848" stroke="#484848" stroke-width="0.3" textLength="109.09" lengthAdjust="spacingAndGlyphs">2,068</text>
<text x="1063.33" y="542.3" class="num" font-size="40.99" fill="#484848" stroke="#484848" stroke-width="0.3" textLength="109.09" lengthAdjust="spacingAndGlyphs">2,068</text>
<text x="1064.08" y="542.3" class="num" font-size="40.99" fill="#484848" stroke="#484848" stroke-width="0.3" textLength="109.09" lengthAdjust="spacingAndGlyphs">2,068</text>
<text id="L_Q. Roo" x="1080.89" y="379" class="lab" font-size="16" fill="#fff" textLength="54.86" lengthAdjust="spacingAndGlyphs">Q. Roo</text>
<text x="1054.5" y="420.7" class="num" font-size="40.01" fill="#fff" stroke="#fff" stroke-width="0.3" textLength="108.87" lengthAdjust="spacingAndGlyphs">4,040</text>
<text x="1055.25" y="420.7" class="num" font-size="40.01" fill="#fff" stroke="#fff" stroke-width="0.3" textLength="108.87" lengthAdjust="spacingAndGlyphs">4,040</text>
<text x="1056" y="420.7" class="num" font-size="40.01" fill="#fff" stroke="#fff" stroke-width="0.3" textLength="108.87" lengthAdjust="spacingAndGlyphs">4,040</text>
<text id="L_Yucatán" x="999.09" y="283.3" class="lab" font-size="16" fill="#fff" textLength="65.28" lengthAdjust="spacingAndGlyphs">Yucatán</text>
<text x="978.23" y="321.3" class="num" font-size="40.52" fill="#fff" stroke="#fff" stroke-width="0.3" textLength="104.72" lengthAdjust="spacingAndGlyphs">5,882</text>
<text x="978.98" y="321.3" class="num" font-size="40.52" fill="#fff" stroke="#fff" stroke-width="0.3" textLength="104.72" lengthAdjust="spacingAndGlyphs">5,882</text>
<text x="979.73" y="321.3" class="num" font-size="40.52" fill="#fff" stroke="#fff" stroke-width="0.3" textLength="104.72" lengthAdjust="spacingAndGlyphs">5,882</text>
<text id="L_Veracruz" x="792.15" y="457.8" class="lab" font-size="16" fill="#fff" textLength="70.26" lengthAdjust="spacingAndGlyphs">Veracruz</text>
<text x="763.6" y="501.3" class="num" font-size="44.97" fill="#fff" stroke="#fff" stroke-width="0.3" textLength="122.02" lengthAdjust="spacingAndGlyphs">14,851</text>
<text x="764.35" y="501.3" class="num" font-size="44.97" fill="#fff" stroke="#fff" stroke-width="0.3" textLength="122.02" lengthAdjust="spacingAndGlyphs">14,851</text>
<text x="765.1" y="501.3" class="num" font-size="44.97" fill="#fff" stroke="#fff" stroke-width="0.3" textLength="122.02" lengthAdjust="spacingAndGlyphs">14,851</text>
<text id="L_Puebla" x="897.33" y="381.7" class="lab" font-size="16" fill="#fff" textLength="55.02" lengthAdjust="spacingAndGlyphs">Puebla</text>
<text x="860.67" y="421.3" class="num" font-size="43.36" fill="#fff" stroke="#fff" stroke-width="0.3" textLength="119.11" lengthAdjust="spacingAndGlyphs">15,773</text>
<text x="861.42" y="421.3" class="num" font-size="43.36" fill="#fff" stroke="#fff" stroke-width="0.3" textLength="119.11" lengthAdjust="spacingAndGlyphs">15,773</text>
<text x="862.17" y="421.3" class="num" font-size="43.36" fill="#fff" stroke="#fff" stroke-width="0.3" textLength="119.11" lengthAdjust="spacingAndGlyphs">15,773</text>
<text id="L_Tlaxcala" x="791.15" y="318.3" class="lab" font-size="16" fill="#4f4f4f" textLength="62.3" lengthAdjust="spacingAndGlyphs">Tlaxcala</text>
<text x="775.83" y="356.3" class="num" font-size="40.99" fill="#484848" stroke="#484848" stroke-width="0.3" textLength="94.68" lengthAdjust="spacingAndGlyphs">2,816</text>
<text x="776.58" y="356.3" class="num" font-size="40.99" fill="#484848" stroke="#484848" stroke-width="0.3" textLength="94.68" lengthAdjust="spacingAndGlyphs">2,816</text>
<text x="777.33" y="356.3" class="num" font-size="40.99" fill="#484848" stroke="#484848" stroke-width="0.3" textLength="94.68" lengthAdjust="spacingAndGlyphs">2,816</text>
<text id="L_Hidalgo" x="878.97" y="238.5" class="lab" font-size="16" fill="#fff" textLength="61.8" lengthAdjust="spacingAndGlyphs">Hidalgo</text>
<text x="853.69" y="276.9" class="num" font-size="41.12" fill="#fff" stroke="#fff" stroke-width="0.3" textLength="101.14" lengthAdjust="spacingAndGlyphs">7,789</text>
<text x="854.44" y="276.9" class="num" font-size="41.12" fill="#fff" stroke="#fff" stroke-width="0.3" textLength="101.14" lengthAdjust="spacingAndGlyphs">7,789</text>
<text x="855.19" y="276.9" class="num" font-size="41.12" fill="#fff" stroke="#fff" stroke-width="0.3" textLength="101.14" lengthAdjust="spacingAndGlyphs">7,789</text>
<text id="L_SLP" x="889.48" y="125" class="lab" font-size="16" fill="#fff" textLength="31.71" lengthAdjust="spacingAndGlyphs">SLP</text>
<text x="851.84" y="163.3" class="num" font-size="42.37" fill="#fff" stroke="#fff" stroke-width="0.3" textLength="103.05" lengthAdjust="spacingAndGlyphs">6,824</text>
<text x="852.59" y="163.3" class="num" font-size="42.37" fill="#fff" stroke="#fff" stroke-width="0.3" textLength="103.05" lengthAdjust="spacingAndGlyphs">6,824</text>
<text x="853.34" y="163.3" class="num" font-size="42.37" fill="#fff" stroke="#fff" stroke-width="0.3" textLength="103.05" lengthAdjust="spacingAndGlyphs">6,824</text>
<text id="L_Tamaulipas" x="733.6" y="73.3" class="lab" font-size="16" fill="#fff" textLength="89.81" lengthAdjust="spacingAndGlyphs">Tamaulipas</text>
<text x="723.99" y="111.1" class="num" font-size="41.01" fill="#fff" stroke="#fff" stroke-width="0.3" textLength="100.67" lengthAdjust="spacingAndGlyphs">7,389</text>
<text x="724.74" y="111.1" class="num" font-size="41.01" fill="#fff" stroke="#fff" stroke-width="0.3" textLength="100.67" lengthAdjust="spacingAndGlyphs">7,389</text>
<text x="725.49" y="111.1" class="num" font-size="41.01" fill="#fff" stroke="#fff" stroke-width="0.3" textLength="100.67" lengthAdjust="spacingAndGlyphs">7,389</text>
<text id="L_Coahuila" x="603.24" y="66.7" class="lab" font-size="16" fill="#fff" textLength="70.76" lengthAdjust="spacingAndGlyphs">Coahuila</text>
<text x="589.36" y="104" class="num" font-size="39.99" fill="#fff" stroke="#fff" stroke-width="0.3" textLength="98.78" lengthAdjust="spacingAndGlyphs">7,895</text>
<text x="590.11" y="104" class="num" font-size="39.99" fill="#fff" stroke="#fff" stroke-width="0.3" textLength="98.78" lengthAdjust="spacingAndGlyphs">7,895</text>
<text x="590.86" y="104" class="num" font-size="39.99" fill="#fff" stroke="#fff" stroke-width="0.3" textLength="98.78" lengthAdjust="spacingAndGlyphs">7,895</text>
<text id="L_NL" x="711.73" y="204.3" class="lab" font-size="16" fill="#fff" textLength="22.84" lengthAdjust="spacingAndGlyphs">NL</text>
<text x="654.75" y="243.3" class="num" font-size="42.37" fill="#fff" stroke="#fff" stroke-width="0.3" textLength="128.9" lengthAdjust="spacingAndGlyphs">13,882</text>
<text x="655.5" y="243.3" class="num" font-size="42.37" fill="#fff" stroke="#fff" stroke-width="0.3" textLength="128.9" lengthAdjust="spacingAndGlyphs">13,882</text>
<text x="656.25" y="243.3" class="num" font-size="42.37" fill="#fff" stroke="#fff" stroke-width="0.3" textLength="128.9" lengthAdjust="spacingAndGlyphs">13,882</text>
<text id="L_Durango" x="549.62" y="167.7" class="lab" font-size="16" fill="#4f4f4f" textLength="70.12" lengthAdjust="spacingAndGlyphs">Durango</text>
<text x="536.84" y="203.3" class="num" font-size="39.52" fill="#484848" stroke="#484848" stroke-width="0.3" textLength="92.93" lengthAdjust="spacingAndGlyphs">3,103</text>
<text x="537.59" y="203.3" class="num" font-size="39.52" fill="#484848" stroke="#484848" stroke-width="0.3" textLength="92.93" lengthAdjust="spacingAndGlyphs">3,103</text>
<text x="538.34" y="203.3" class="num" font-size="39.52" fill="#484848" stroke="#484848" stroke-width="0.3" textLength="92.93" lengthAdjust="spacingAndGlyphs">3,103</text>
<text id="L_Chihuahua" x="439.89" y="82.7" class="lab" font-size="16" fill="#fff" textLength="86.76" lengthAdjust="spacingAndGlyphs">Chihuahua</text>
<text x="431.72" y="121.7" class="num" font-size="40.01" fill="#fff" stroke="#fff" stroke-width="0.3" textLength="102.4" lengthAdjust="spacingAndGlyphs">8,861</text>
<text x="432.47" y="121.7" class="num" font-size="40.01" fill="#fff" stroke="#fff" stroke-width="0.3" textLength="102.4" lengthAdjust="spacingAndGlyphs">8,861</text>
<text x="433.22" y="121.7" class="num" font-size="40.01" fill="#fff" stroke="#fff" stroke-width="0.3" textLength="102.4" lengthAdjust="spacingAndGlyphs">8,861</text>
<text id="L_Sonora" x="329.85" y="102" class="lab" font-size="16" fill="#fff" textLength="56.65" lengthAdjust="spacingAndGlyphs">Sonora</text>
<text x="310.69" y="140" class="num" font-size="42.18" fill="#fff" stroke="#fff" stroke-width="0.3" textLength="96.26" lengthAdjust="spacingAndGlyphs">9,323</text>
<text x="311.44" y="140" class="num" font-size="42.18" fill="#fff" stroke="#fff" stroke-width="0.3" textLength="96.26" lengthAdjust="spacingAndGlyphs">9,323</text>
<text x="312.19" y="140" class="num" font-size="42.18" fill="#fff" stroke="#fff" stroke-width="0.3" textLength="96.26" lengthAdjust="spacingAndGlyphs">9,323</text>
</g>
</svg></body></html>
